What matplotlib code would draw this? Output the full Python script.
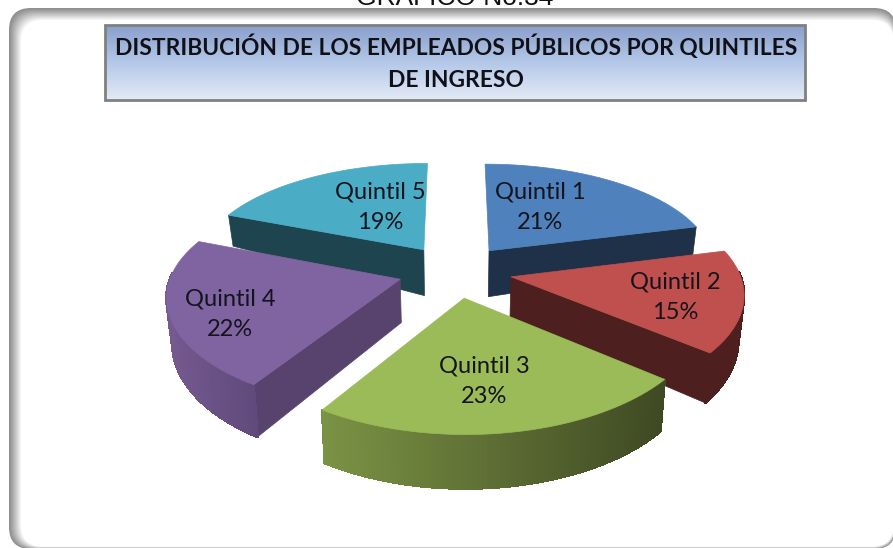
import numpy as np
import matplotlib
matplotlib.use('Agg')
import matplotlib.pyplot as plt
from matplotlib.colors import LinearSegmentedColormap, to_rgb
from matplotlib.patches import FancyBboxPatch, Polygon, Rectangle

header = 'GRÁFICO No.34'
title = 'DISTRIBUCIÓN DE LOS EMPLEADOS PÚBLICOS POR QUINTILES\nDE INGRESO'
categories = ['Quintil 1', 'Quintil 2', 'Quintil 3', 'Quintil 4', 'Quintil 5']
values = [21, 15, 23, 22, 19]

top_colors = ['#4F81BD', '#C0504D', '#9BBB59', '#8064A2', '#4BACC6']
cut_colors = ['#1F3049', '#4D1F1E', '#3F4923', '#58436E', '#1E4450']
arc_left = ['#1F3049', '#4D1F1E', '#7B9344', '#75598F', '#1E4450']
arc_right = ['#1F3049', '#4D1F1E', '#3F4923', '#604A7C', '#1E4450']
label_pos = [(540, 207), (675, 297), (484, 381), (230, 314), (380, 207)]

# pie geometry, pixels of the original picture
CX, CY = 455, 271
RX, RY = 228, 105.8
PERSP_X, PERSP_Y = 0.135, 0.155
EXPLODE = 0.25
draw_order = [4, 0, 3, 1, 2]


def project(u, v):
    return CX + RX * u / (1 - PERSP_X * v), CY + RY * v / (1 - PERSP_Y * v)


def lower(u, v):
    # same point on the underside of the slice
    x, y = project(u, v)
    depth = np.interp(v, [-1.2, -0.575, -0.45, -0.2, 0.05, 0.9, 1.25], [28, 31, 39, 46, 43, 52, 54])
    return CX + (x - CX) * 0.98, y + depth


def arc_points(start, end, du, dv):
    th = np.linspace(start, end, 80)
    return du + np.sin(th), dv - np.cos(th)


def draw_frame(ax):
    for i in range(16):
        grey = min(1.0, 0.56 + 0.44 * (i / 12) ** 1.1)
        ax.add_patch(FancyBboxPatch((9 + i + 20, 8 + i + 20), 887 - 1.2 * i - 40, 541 - 1.2 * i - 40,
                                    boxstyle='round,pad=20,rounding_size=22', fc=(grey, grey, grey), ec='none'))


def draw_title(ax):
    cmap = LinearSegmentedColormap.from_list('title', ['#8A9FCB', '#B4C8E8', '#E3EAF6'])
    grad = np.linspace(0, 1, 80).reshape(-1, 1)
    ax.imshow(grad, extent=(105, 805, 100, 25), cmap=cmap, aspect='auto', zorder=2)
    ax.add_patch(Rectangle((105, 25), 700, 75, fc='none', ec='#808080', lw=2, zorder=3))
    ax.text(456, 63, title, ha='center', va='center', fontsize=16.4, fontweight='bold',
            family='Lato', color='#101018', linespacing=1.65, zorder=4)


def draw_slice(ax, i, start, end):
    mid = (start + end) / 2
    du, dv = EXPLODE * np.sin(mid), -EXPLODE * np.cos(mid)
    ax_, ay_ = project(du, dv)
    bx_, by_ = lower(du, dv)

    # flat cut faces, only the one turned to the viewer
    for ang, visible in ((start, np.sin(start) < -0.01), (end, np.sin(end) > 0.01)):
        if not visible:
            continue
        u, v = du + np.sin(ang), dv - np.cos(ang)
        ex, ey = project(u, v)
        fx, fy = lower(u, v)
        ax.add_patch(Polygon([(ax_, ay_), (ex, ey), (fx, fy), (bx_, by_)], fc=cut_colors[i],
                             ec=cut_colors[i], lw=0.5))

    # curved side, only the part turned to the viewer
    us, vs = arc_points(start, end, du, dv)
    left, right = to_rgb(arc_left[i]), to_rgb(arc_right[i])
    xs = [project(u, v)[0] for u, v in zip(us, vs)]
    lo, hi = min(xs), max(xs)
    for k in range(len(us) - 1):
        th = start + (end - start) * k / (len(us) - 1)
        if np.cos(th) > 0.05:
            continue
        t = (xs[k] - lo) / max(hi - lo, 1)
        col = tuple(a + (b - a) * t for a, b in zip(left, right))
        quad = [project(us[k], vs[k]), project(us[k + 1], vs[k + 1]),
                lower(us[k + 1], vs[k + 1]), lower(us[k], vs[k])]
        ax.add_patch(Polygon(quad, fc=col, ec=col, lw=1.2, antialiased=False))

    # top surface
    pts = [(ax_, ay_)] + [project(u, v) for u, v in zip(us, vs)]
    ax.add_patch(Polygon(pts, fc=top_colors[i], ec=top_colors[i], lw=0.5))


fig = plt.figure(figsize=(8.93, 5.48), dpi=100)
ax = fig.add_axes([0, 0, 1, 1])
ax.set_xlim(0, 893)
ax.set_ylim(548, 0)
ax.axis('off')

draw_frame(ax)
draw_title(ax)
ax.set_xlim(0, 893)
ax.set_ylim(548, 0)

ax.text(455, 5, header, ha='center', va='baseline', fontsize=19, family='Liberation Sans', color='#111111')

edges = np.cumsum([0] + values) / sum(values) * 2 * np.pi
for i in draw_order:
    draw_slice(ax, i, edges[i], edges[i + 1])

for i, name in enumerate(categories):
    ax.text(label_pos[i][0], label_pos[i][1], f'{name}\n{values[i]}%', ha='center', va='center',
            fontsize=17, family='Lato', color='#14141c', linespacing=1.55, zorder=5)

fig.savefig('out.png', dpi=100)
